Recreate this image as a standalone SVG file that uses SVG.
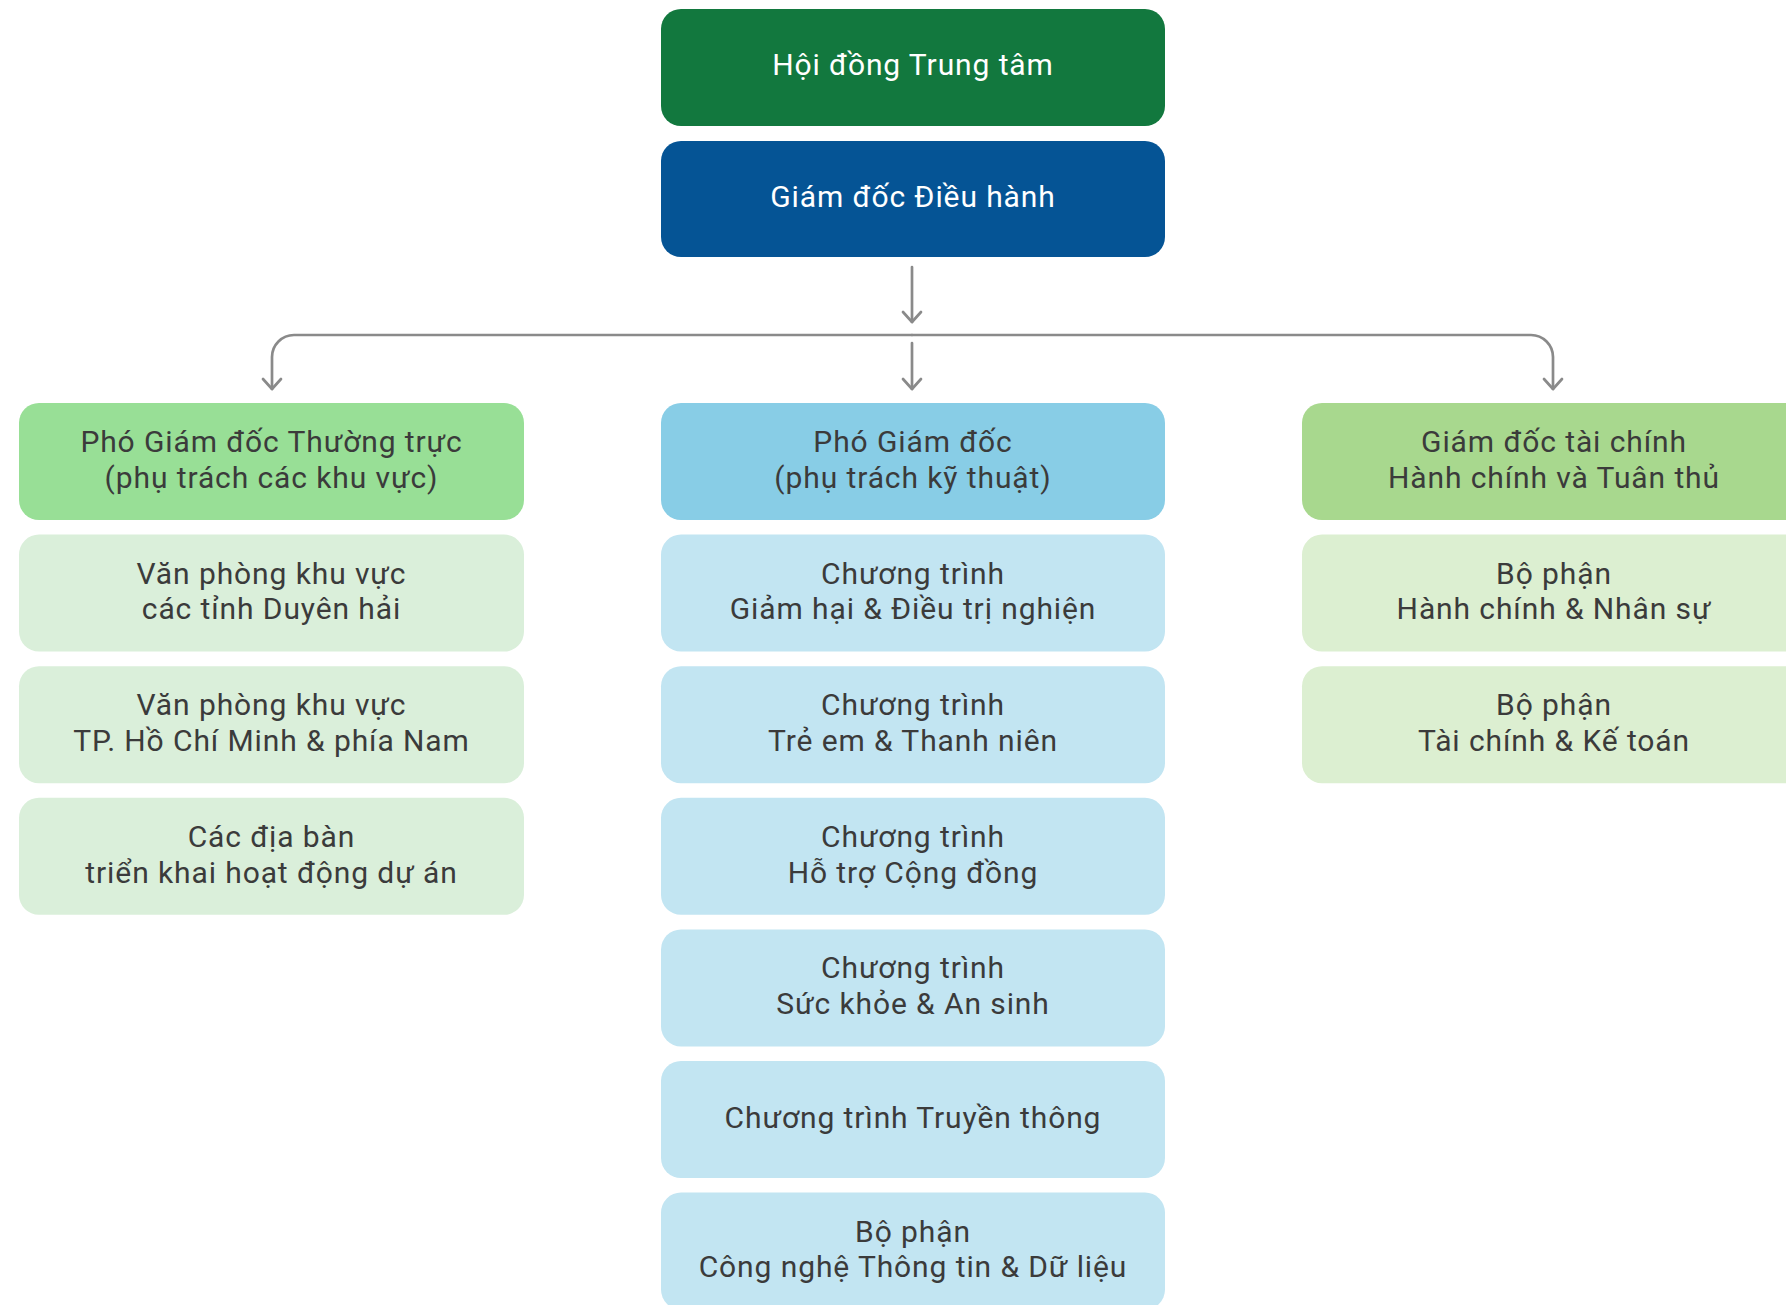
<svg xmlns="http://www.w3.org/2000/svg" width="1786" height="1305" viewBox="0 0 1786 1305">
<defs>
<style>
.box{stroke:none}
.t{font-family:Roboto,"Noto Sans","Liberation Sans",sans-serif;font-size:30px;letter-spacing:0.9px;text-anchor:middle;dominant-baseline:central;fill:#3b3b3b}
.w{fill:#ffffff}
.c{fill:none;stroke:#8a8a8a;stroke-width:2.7;stroke-linecap:round}
.g1{fill:#12783e}
.b1{fill:#055495}
.lg{fill:#98df96}
.lb{fill:#88cde6}
.rg{fill:#a8d88e}
.slg{fill:#daefda}
.slb{fill:#c2e5f2}
.srg{fill:#dcefd1}
</style>
<marker id="arr" markerUnits="userSpaceOnUse" markerWidth="26" markerHeight="26" viewBox="-13 -13 26 26" refX="0" refY="0" orient="auto">
<path d="M-10,-9 L0,0 L-10,9" fill="none" stroke="#8a8a8a" stroke-width="2.7" stroke-linecap="round" stroke-linejoin="round"/>
</marker>
</defs>
<rect width="1786" height="1305" fill="#ffffff"/>

<g id="connectors">
<path class="c" d="M912,267 V322" marker-end="url(#arr)"/>
<path class="c" d="M912,335 H294 A22,22 0 0 0 272,357 V389" marker-end="url(#arr)"/>
<path class="c" d="M912,335 H1531 A22,22 0 0 1 1553,357 V389" marker-end="url(#arr)"/>
<path class="c" d="M912,343 V389" marker-end="url(#arr)"/>
</g>

<g id="hoi-dong">
<rect class="g1" x="661" y="9" width="504" height="117" rx="20"/>
<text class="t w" x="913" y="64.5">Hội đồng Trung tâm</text>
</g>
<g id="giam-doc-dieu-hanh">
<rect class="b1" x="661" y="141" width="504" height="116" rx="20"/>
<text class="t w" x="913" y="196.5">Giám đốc Điều hành</text>
</g>

<g id="pho-gd-thuong-truc">
<rect class="lg" x="19" y="403" width="505" height="117" rx="20"/>
<text class="t" x="271.5" y="441.5">Phó Giám đốc Thường trực</text>
<text class="t" x="271.5" y="477.2">(phụ trách các khu vực)</text>
</g>
<g id="vp-duyen-hai">
<rect class="slg" x="19" y="534.6" width="505" height="117" rx="20"/>
<text class="t" x="271.5" y="573.1">Văn phòng khu vực</text>
<text class="t" x="271.5" y="608.8">các tỉnh Duyên hải</text>
</g>
<g id="vp-hcm">
<rect class="slg" x="19" y="666.2" width="505" height="117" rx="20"/>
<text class="t" x="271.5" y="704.7">Văn phòng khu vực</text>
<text class="t" x="271.5" y="740.4">TP. Hồ Chí Minh &amp; phía Nam</text>
</g>
<g id="dia-ban">
<rect class="slg" x="19" y="797.8" width="505" height="117" rx="20"/>
<text class="t" x="271.5" y="836.3">Các địa bàn</text>
<text class="t" x="271.5" y="872">triển khai hoạt động dự án</text>
</g>

<g id="pho-gd-ky-thuat">
<rect class="lb" x="661" y="403" width="504" height="117" rx="20"/>
<text class="t" x="913" y="441.5">Phó Giám đốc</text>
<text class="t" x="913" y="477.2">(phụ trách kỹ thuật)</text>
</g>
<g id="ct-giam-hai">
<rect class="slb" x="661" y="534.6" width="504" height="117" rx="20"/>
<text class="t" x="913" y="573.1">Chương trình</text>
<text class="t" x="913" y="608.8">Giảm hại &amp; Điều trị nghiện</text>
</g>
<g id="ct-tre-em">
<rect class="slb" x="661" y="666.2" width="504" height="117" rx="20"/>
<text class="t" x="913" y="704.7">Chương trình</text>
<text class="t" x="913" y="740.4">Trẻ em &amp; Thanh niên</text>
</g>
<g id="ct-cong-dong">
<rect class="slb" x="661" y="797.8" width="504" height="117" rx="20"/>
<text class="t" x="913" y="836.3">Chương trình</text>
<text class="t" x="913" y="872">Hỗ trợ Cộng đồng</text>
</g>
<g id="ct-suc-khoe">
<rect class="slb" x="661" y="929.4" width="504" height="117" rx="20"/>
<text class="t" x="913" y="967.9">Chương trình</text>
<text class="t" x="913" y="1003.6">Sức khỏe &amp; An sinh</text>
</g>
<g id="ct-truyen-thong">
<rect class="slb" x="661" y="1061" width="504" height="117" rx="20"/>
<text class="t" x="913" y="1117">Chương trình Truyền thông</text>
</g>
<g id="bp-cntt">
<rect class="slb" x="661" y="1192.6" width="504" height="117" rx="20"/>
<text class="t" x="913" y="1231.1">Bộ phận</text>
<text class="t" x="913" y="1266.8">Công nghệ Thông tin &amp; Dữ liệu</text>
</g>

<g id="gd-tai-chinh">
<rect class="rg" x="1302" y="403" width="505" height="117" rx="20"/>
<text class="t" x="1554" y="441.5">Giám đốc tài chính</text>
<text class="t" x="1554" y="477.2">Hành chính và Tuân thủ</text>
</g>
<g id="bp-hanh-chinh">
<rect class="srg" x="1302" y="534.6" width="505" height="117" rx="20"/>
<text class="t" x="1554" y="573.1">Bộ phận</text>
<text class="t" x="1554" y="608.8">Hành chính &amp; Nhân sự</text>
</g>
<g id="bp-tai-chinh">
<rect class="srg" x="1302" y="666.2" width="505" height="117" rx="20"/>
<text class="t" x="1554" y="704.7">Bộ phận</text>
<text class="t" x="1554" y="740.4">Tài chính &amp; Kế toán</text>
</g>
</svg>
